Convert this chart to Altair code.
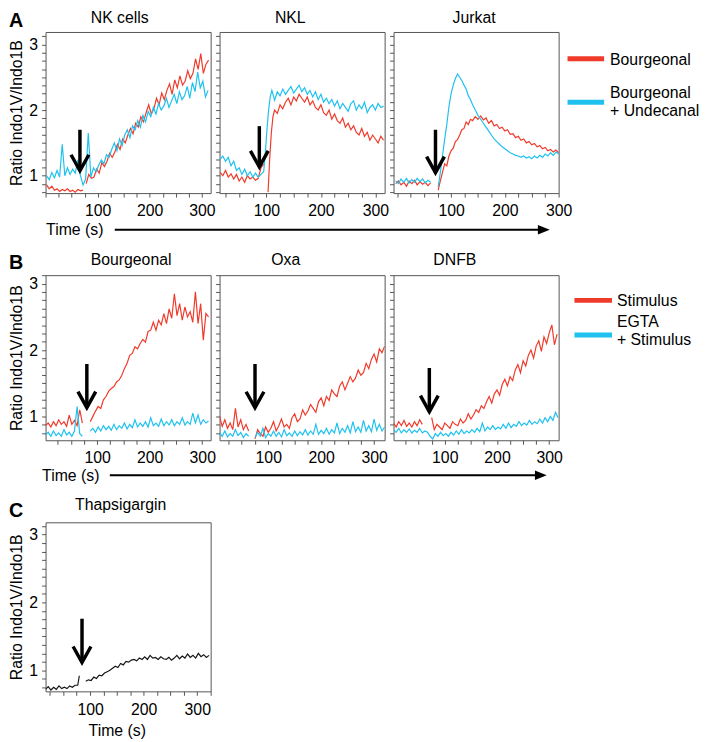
import math
import altair as alt
import pandas as pd

FONT = "Liberation Sans"
RED = "#f03a2a"
BLUE = "#1fc1ee"
BLACK = "#151515"
AX = "#555555"
W = 167

# ---------------- Row A : Bourgeonal vs Bourgeonal + Undecanal ----------------
A1_red_pre_t = list(range(2, 73, 5))
A1_red_pre = [0.86, 0.80, 0.84, 0.78, 0.80, 0.76, 0.79, 0.77, 0.80, 0.76, 0.78, 0.75, 0.79, 0.77, 0.78]
A1_red_post_t = list(range(78, 314, 5))
A1_red_post = [0.88, 1.02, 0.96, 0.98, 1.10, 1.04, 1.20, 1.14, 1.22, 1.34,
               1.28, 1.36, 1.48, 1.40, 1.56, 1.50, 1.62, 1.72, 1.64, 1.80,
               1.74, 1.90, 1.82, 1.96, 2.08, 1.94, 2.02, 2.18, 2.08, 2.26,
               2.16, 2.30, 2.40, 2.24, 2.46, 2.34, 2.52, 2.38, 2.44, 2.60,
               2.48, 2.56, 2.78, 2.62, 2.86, 2.56, 2.70, 2.76]
A1_blue_t = list(range(2, 314, 5))
A1_blue = [1.00, 0.94, 1.05, 0.97, 1.08, 0.98, 1.48, 1.00, 1.12, 1.02,
           1.10, 1.04, 1.24, 1.00, 0.86, 0.95, 1.65, 0.98, 1.12, 1.06,
           1.16, 1.24, 1.18, 1.32, 1.28, 1.40, 1.50, 1.38, 1.56, 1.46,
           1.62, 1.70, 1.58, 1.76, 1.70, 1.84, 1.74, 1.92, 1.82, 1.98,
           1.90, 2.04, 1.94, 2.10, 2.00, 2.06, 2.18, 2.04, 2.14, 2.24,
           2.10, 2.28, 2.16, 2.22, 2.36, 2.18, 2.42, 2.28, 2.58, 2.34,
           2.44, 2.20, 2.30]

A2_red_pre_t = list(range(15, 96, 5))
A2_red_pre = [1.05, 1.00, 1.08, 0.98, 1.03, 0.95, 1.02, 0.92, 0.98, 0.90,
              1.00, 0.95, 0.98, 0.93, 0.96, 1.12, 1.18]
A2_red_post_t = [103, 106, 109, 112, 115] + list(range(120, 316, 5))
A2_red_post = [0.75, 1.25, 1.65, 1.90, 2.00,
               1.95, 2.08, 2.02, 2.12, 2.18, 2.08, 2.20, 2.14, 2.24, 2.18,
               2.12, 2.20, 2.08, 2.14, 2.04, 2.00, 2.08, 1.96, 1.92, 2.00,
               1.86, 1.94, 1.84, 1.80, 1.88, 1.74, 1.80, 1.70, 1.76, 1.66,
               1.62, 1.72, 1.60, 1.66, 1.54, 1.62, 1.56, 1.50, 1.60, 1.54]
A2_blue_t = list(range(15, 96, 5)) + [98, 101, 104, 107, 110] + list(range(115, 316, 5))
A2_blue = [1.25, 1.30, 1.22, 1.28, 1.15, 1.22, 1.08, 1.12, 1.02, 1.10,
           1.00, 1.06, 0.98, 1.04, 0.98, 1.02, 1.06,
           1.35, 1.70, 2.00, 2.20, 2.30,
           2.15, 2.28, 2.22, 2.32, 2.24, 2.30, 2.36, 2.26, 2.32, 2.38,
           2.28, 2.34, 2.24, 2.30, 2.20, 2.28, 2.16, 2.24, 2.12, 2.18,
           2.10, 2.16, 2.06, 2.14, 2.02, 2.10, 2.04, 1.98, 2.10, 2.14,
           2.00, 2.08, 2.02, 2.12, 1.96, 2.04, 2.08, 2.00, 2.10, 2.04,
           2.06]

A3_pre_t = list(range(-3, 63, 5))
A3_red_pre = [0.88, 0.92, 0.86, 0.90, 0.84, 0.92, 0.88, 0.93, 0.86, 0.91, 0.87, 0.90, 0.85, 0.89]
A3_blue_pre = [0.92, 0.88, 0.95, 0.90, 0.96, 0.89, 0.94, 0.90, 0.96, 0.91, 0.95, 0.89, 0.93, 0.90]
A3_post_t = [76, 80, 84, 88, 92, 96, 100, 104, 108, 112, 116, 120, 124, 128, 132, 136, 140] + list(range(145, 306, 5))
A3_red_post = [0.78, 0.92, 1.05, 1.18, 1.15, 1.30, 1.38, 1.42, 1.52, 1.55, 1.62, 1.70, 1.72, 1.82, 1.78, 1.86, 1.84,
               1.90, 1.86, 1.91, 1.85, 1.88, 1.80, 1.84, 1.76, 1.78, 1.72,
               1.74, 1.68, 1.70, 1.63, 1.64, 1.58, 1.60, 1.54, 1.56, 1.50,
               1.52, 1.47, 1.49, 1.44, 1.46, 1.41, 1.43, 1.38, 1.40, 1.36,
               1.39, 1.35, 1.37]
A3_blue_post = [0.83, 1.05, 1.30, 1.55, 1.78, 2.05, 2.25, 2.38, 2.48, 2.55, 2.50, 2.45, 2.38, 2.32, 2.22, 2.16, 2.08,
                2.00, 1.92, 1.86, 1.80, 1.74, 1.68, 1.62, 1.56, 1.52, 1.48,
                1.44, 1.41, 1.38, 1.35, 1.33, 1.31, 1.30, 1.28, 1.30, 1.27,
                1.29, 1.26, 1.30, 1.27, 1.31, 1.28, 1.33, 1.30, 1.35, 1.31,
                1.36, 1.33, 1.38]

# ---------------- Row B : Stimulus vs EGTA + Stimulus ----------------
B1_pre_t = list(range(2, 73, 5))
B1_red_pre = [0.86, 0.90, 0.84, 0.92, 0.86, 0.95, 0.88, 0.92, 0.85, 1.02, 0.88, 0.94, 0.86, 1.10, 0.90]
B1_blue_pre = [0.72, 0.76, 0.70, 0.78, 0.71, 0.75, 0.70, 0.80, 0.72, 0.76, 0.70, 0.78, 1.15, 0.74, 0.70]
B1_post_t = list(range(87, 313, 5))
B1_red_post = [0.92, 1.00, 1.08, 1.15, 1.12, 1.25, 1.30, 1.38, 1.42, 1.45,
               1.52, 1.55, 1.62, 1.72, 1.80, 1.92, 1.95, 2.05, 2.02, 2.10,
               2.16, 2.12, 2.28, 2.30, 2.42, 2.30, 2.45, 2.38, 2.55, 2.40,
               2.62, 2.48, 2.85, 2.52, 2.70, 2.45, 2.65, 2.50, 2.58, 2.42,
               2.88, 2.40, 2.70, 2.15, 2.55, 2.50]
B1_blue_post = [0.78, 0.82, 0.76, 0.84, 0.78, 0.86, 0.80, 0.85, 0.79, 0.88,
                0.80, 0.86, 0.82, 0.90, 0.81, 0.88, 0.83, 0.95, 0.84, 0.90,
                0.85, 0.92, 0.84, 0.98, 0.86, 0.90, 0.85, 0.96, 0.86, 0.92,
                0.87, 0.95, 0.86, 0.92, 0.88, 0.98, 0.87, 0.92, 0.88, 1.05,
                0.90, 1.02, 0.88, 0.95, 0.90, 0.93]

B2_pre_t = list(range(8, 64, 5))
B2_red_pre = [1.00, 0.85, 0.95, 0.82, 0.90, 0.80, 1.12, 0.84, 0.95, 0.80, 0.88, 0.78]
B2_blue_pre = [0.76, 0.70, 0.78, 0.69, 0.74, 0.70, 0.80, 0.71, 0.76, 0.68, 0.74, 0.70]
B2_post_t = list(range(75, 321, 5))
B2_red_post = [0.66, 0.80, 0.74, 0.70, 0.84, 0.76, 0.82, 0.92, 0.78, 0.86,
               0.96, 0.84, 0.88, 0.82, 0.98, 1.04, 0.92, 0.96, 1.10, 1.02,
               1.08, 1.18, 1.12, 1.06, 1.22, 1.28, 1.16, 1.30, 1.24, 1.40,
               1.34, 1.30, 1.46, 1.52, 1.40, 1.50, 1.60, 1.52, 1.58, 1.70,
               1.62, 1.66, 1.80, 1.72, 1.86, 1.94, 1.82, 2.02, 1.96, 2.06]
B2_blue_post = [0.68, 0.76, 0.70, 0.82, 0.68, 0.74, 0.70, 0.78, 0.70, 0.76,
                0.69, 0.80, 0.71, 0.75, 0.70, 0.78, 0.71, 0.77, 0.72, 0.80,
                0.72, 0.78, 0.73, 0.88, 0.73, 0.79, 0.74, 0.82, 0.73, 0.80,
                0.75, 0.90, 0.74, 0.82, 0.76, 0.86, 0.75, 0.92, 0.77, 0.84,
                0.76, 0.94, 0.78, 0.86, 0.77, 0.96, 0.79, 0.88, 0.78, 0.84]

B3_red_pre_t = list(range(2, 58, 5))
B3_red_pre = [0.90, 0.84, 0.92, 0.86, 0.94, 0.85, 0.90, 0.84, 0.92, 0.86, 0.95, 0.88]
B3_red_post_t = list(range(75, 316, 5))
B3_red_post = [0.98, 0.80, 0.88, 0.84, 0.80, 0.90, 0.86, 0.82, 0.92, 0.88,
               0.86, 0.96, 0.90, 0.94, 1.04, 0.96, 1.02, 1.10, 1.06, 1.16,
               1.12, 1.22, 1.30, 1.20, 1.34, 1.40, 1.32, 1.48, 1.56, 1.46,
               1.60, 1.54, 1.70, 1.78, 1.66, 1.84, 1.76, 1.92, 2.00, 1.88,
               2.06, 2.14, 1.98, 2.20, 2.10, 2.26, 2.38, 2.08, 2.24]
B3_blue_t = list(range(2, 318, 5))
B3_blue = [0.80, 0.76, 0.82, 0.75, 0.80, 0.76, 0.81, 0.75, 0.79, 0.76,
           0.82, 0.75, 0.78, 0.76, 0.70, 0.66, 0.74, 0.70, 0.76, 0.71,
           0.74, 0.70, 0.76, 0.72, 0.78, 0.73, 0.80, 0.74, 0.78, 0.75,
           0.80, 0.76, 0.82, 0.77, 0.90, 0.78, 0.84, 0.80, 0.86, 0.80,
           0.84, 0.81, 0.88, 0.82, 0.90, 0.83, 0.88, 0.85, 0.92, 0.86,
           0.90, 0.87, 0.94, 0.88, 0.92, 0.89, 0.96, 0.90, 0.98, 0.92,
           1.00, 0.94, 1.06, 0.98]

# ---------------- Row C : Thapsigargin ----------------
C_pre_t = list(range(17, 78, 5)) + [80]
C_pre = [0.72, 0.76, 0.71, 0.75, 0.72, 0.77, 0.73, 0.75, 0.73, 0.77, 0.75, 0.78, 0.78, 0.92]
C_post_t = list(range(92, 326, 5))
C_post = [0.84, 0.86, 0.85, 0.90, 0.88, 0.93, 0.92, 0.96, 0.98, 1.00,
          1.03, 1.06, 1.04, 1.10, 1.08, 1.13, 1.12, 1.15, 1.16, 1.14,
          1.18, 1.16, 1.20, 1.16, 1.22, 1.18, 1.19, 1.16, 1.20, 1.17,
          1.16, 1.19, 1.15, 1.18, 1.22, 1.17, 1.21, 1.18, 1.24, 1.19,
          1.22, 1.18, 1.25, 1.20, 1.23, 1.19, 1.22]

# stimulus arrows: (time, ratio at top of shaft, ratio at tip)
ARROWS = {
    "A1": (66, 1.70, 1.075), "A2": (87, 1.755, 1.135), "A3": (71, 1.70, 1.046),
    "B1": (80.5, 1.79, 1.132), "B2": (75, 1.79, 1.13), "B3": (70.5, 1.73, 1.072),
    "C": (85, 1.76, 1.115),
}

A_titles = ["NK cells", "NKL", "Jurkat"]
B_titles = ["Bourgeonal", "Oxa", "DNFB"]
C_title = "Thapsigargin"
A_legend = ["Bourgeonal", "Bourgeonal", "+ Undecanal"]
B_legend = ["Stimulus", "EGTA", "+ Stimulus"]
Y_TITLE = "Ratio Indo1V/Indo1B"
X_TITLE = "Time (s)"

one = pd.DataFrame({"k": [0]})


def tick_values(lo, hi, step):
    s = math.ceil(lo / step - 1e-9)
    e = math.floor(hi / step + 1e-9)
    return [round(k * step, 4) for k in range(s, e + 1)]


def frame(segments):
    rows = []
    for k, (ts, vs) in enumerate(segments):
        for t, v in zip(ts, vs):
            rows.append({"t": t, "v": v, "seg": k})
    return pd.DataFrame(rows)


def txt(s, x, y, size=16, align="left", baseline="middle", weight="normal"):
    return alt.Chart(one).mark_text(
        text=s, font=FONT, fontSize=size, fontWeight=weight, align=align,
        baseline=baseline, color="black"
    ).encode(x=alt.value(x), y=alt.value(y))


def hrule(x0, x1, y, color, width):
    return alt.Chart(one).mark_rule(color=color, strokeWidth=width).encode(
        x=alt.value(x0), x2=alt.value(x1), y=alt.value(y))


def panel(title, title_dx, title_y, xdom, ydom, H, series, arrow, first,
          letter=None, letter_y=-5.5, xtitle=None, long_arrow=None, legend=None):
    xs = alt.Scale(domain=xdom, nice=False, zero=False)
    ys = alt.Scale(domain=ydom, nice=False, zero=False)
    xa = dict(values=tick_values(xdom[0], xdom[1], 25), format=".0f",
              labelExpr="datum.value > 0 && datum.value % 100 == 0 ? datum.label : ''",
              grid=False, domain=False, ticks=True, tickSize=4, tickColor=AX,
              labelFont=FONT, labelFontSize=16, labelColor="black", labelPadding=6,
              labelOverlap=False, labelFlush=False)
    if xtitle:
        xa.update(title=X_TITLE, titleX=xtitle[0], titleY=xtitle[1], titleFont=FONT,
                  titleFontSize=16, titleFontWeight="normal", titleColor="black",
                  titleAlign="center", titleBaseline="middle")
    else:
        xa["title"] = None
    ya = dict(values=tick_values(ydom[0], ydom[1], 0.125), grid=False, domain=False,
              ticks=True, tickSize=4, tickColor=AX)
    if first:
        ya.update(format=".0f", labelExpr="datum.value % 1 == 0 ? datum.label : ''",
                  labelFont=FONT, labelFontSize=16, labelColor="black", labelPadding=4,
                  labelOverlap=False, labelFlush=False,
                  title=Y_TITLE, titleX=-29, titleY=H / 2, titleAngle=270,
                  titleFont=FONT, titleFontSize=16, titleFontWeight="normal",
                  titleColor="black", titleAlign="center", titleBaseline="middle")
    else:
        ya.update(labels=False, title=None)
    xaxis = alt.Axis(**xa)
    yaxis = alt.Axis(**ya)

    layers = []
    for color, segs in series:
        layers.append(
            alt.Chart(frame(segs)).mark_line(color=color, strokeWidth=1.2, clip=True).encode(
                x=alt.X("t:Q", scale=xs, axis=xaxis),
                y=alt.Y("v:Q", scale=ys, axis=yaxis),
                detail="seg:N"))
    adf = pd.DataFrame({"t": [arrow[0]], "top": [arrow[1]], "tip": [arrow[2]]})
    layers.append(alt.Chart(adf).mark_rule(color="black", strokeWidth=3.5).encode(
        x=alt.X("t:Q", scale=xs, axis=xaxis), y=alt.Y("top:Q", scale=ys, axis=yaxis), y2="tip:Q"))
    layers.append(alt.Chart(adf).mark_point(
        shape="M-1,-1.8L0,0L1,-1.8", size=324, filled=False, strokeWidth=3.5,
        color="black", opacity=1, strokeJoin="miter").encode(
        x=alt.X("t:Q", scale=xs, axis=xaxis), y=alt.Y("tip:Q", scale=ys, axis=yaxis)))

    layers.append(txt(title, W / 2 + title_dx, title_y, size=16, align="center", baseline="alphabetic"))
    if letter:
        layers.append(txt(letter, -37, letter_y, size=20, align="left", baseline="alphabetic", weight="bold"))
    if long_arrow:
        x0, x1, yy = long_arrow
        layers.append(hrule(x0, x1 - 6, yy, "black", 2))
        layers.append(alt.Chart(one).mark_point(
            shape="M-1,-0.8L1,0L-1,0.8Z", size=144, filled=True, color="black",
            opacity=1).encode(x=alt.value(x1 - 6), y=alt.value(yy)))
    if legend:
        for item in legend:
            if item[0] == "rule":
                layers.append(hrule(item[1], item[2], item[3], item[4], 5))
            else:
                layers.append(txt(item[1], item[2], item[3]))
    return alt.layer(*layers).properties(width=W, height=H)


HA, HB, HC = 163, 167, 171
YA, YB, YC = [0.735, 3.19], [0.64, 3.13], [0.69, 3.18]

A1 = panel(A_titles[0], -8.5, -9.5, [0, 317], YA, HA,
           [(RED, [(A1_red_pre_t, A1_red_pre), (A1_red_post_t, A1_red_post)]),
            (BLUE, [(A1_blue_t, A1_blue)])],
           ARROWS["A1"], True, letter="A", xtitle=(29, 37), long_arrow=(70, 510, HA + 37))
A2 = panel(A_titles[1], -12, -9.5, [14, 317], YA, HA,
           [(RED, [(A2_red_pre_t, A2_red_pre), (A2_red_post_t, A2_red_post)]),
            (BLUE, [(A2_blue_t, A2_blue)])],
           ARROWS["A2"], False)
A3 = panel(A_titles[2], -2, -9.5, [-7, 300], YA, HA,
           [(RED, [(A3_pre_t, A3_red_pre), (A3_post_t, A3_red_post)]),
            (BLUE, [(A3_pre_t, A3_blue_pre), (A3_post_t, A3_blue_post)])],
           ARROWS["A3"], False,
           legend=[("rule", 176, 213, 27, RED), ("text", A_legend[0], 219, 28),
                   ("rule", 176, 213, 71, BLUE), ("text", A_legend[1], 219, 62),
                   ("text", A_legend[2], 219, 79.5)])

B1 = panel(B_titles[0], 3, -10, [2, 316], YB, HB,
           [(RED, [(B1_pre_t, B1_red_pre), (B1_post_t, B1_red_post)]),
            (BLUE, [(B1_pre_t, B1_blue_pre), (B1_post_t, B1_blue_post)])],
           ARROWS["B1"], True, letter="B", letter_y=-6.5, xtitle=(25, 35.5),
           long_arrow=(65, 507, HB + 35.5))
B2 = panel(B_titles[1], -16.5, -10, [8, 320], YB, HB,
           [(RED, [(B2_pre_t, B2_red_pre), (B2_post_t, B2_red_post)]),
            (BLUE, [(B2_pre_t, B2_blue_pre), (B2_post_t, B2_blue_post)])],
           ARROWS["B2"], False)
B3 = panel(B_titles[2], -21.5, -10, [2, 318], YB, HB,
           [(RED, [(B3_red_pre_t, B3_red_pre), (B3_red_post_t, B3_red_post)]),
            (BLUE, [(B3_blue_t, B3_blue)])],
           ARROWS["B3"], False,
           legend=[("rule", 183, 221, 25.5, RED), ("text", B_legend[0], 226, 26.5),
                   ("rule", 183, 221, 60.5, BLUE), ("text", B_legend[1], 226, 47.5),
                   ("text", B_legend[2], 226, 65.5)])

C1 = panel(C_title, -7.5, -12, [17, 325], YC, HC,
           [(BLACK, [(C_pre_t, C_pre), (C_post_t, C_post)])],
           ARROWS["C"], True, letter="C", letter_y=-5, xtitle=(72, 40))

chart = alt.concat(A1, A2, A3, B1, B2, B3, C1, columns=3,
                   spacing={"row": 83, "column": 9}, bounds="flush",
                   padding={"top": -3, "left": 0, "right": 0, "bottom": 0}
                   ).configure_view(stroke=AX, strokeWidth=1)

chart.save("out.html", embed_options={"renderer": "svg", "actions": False})
